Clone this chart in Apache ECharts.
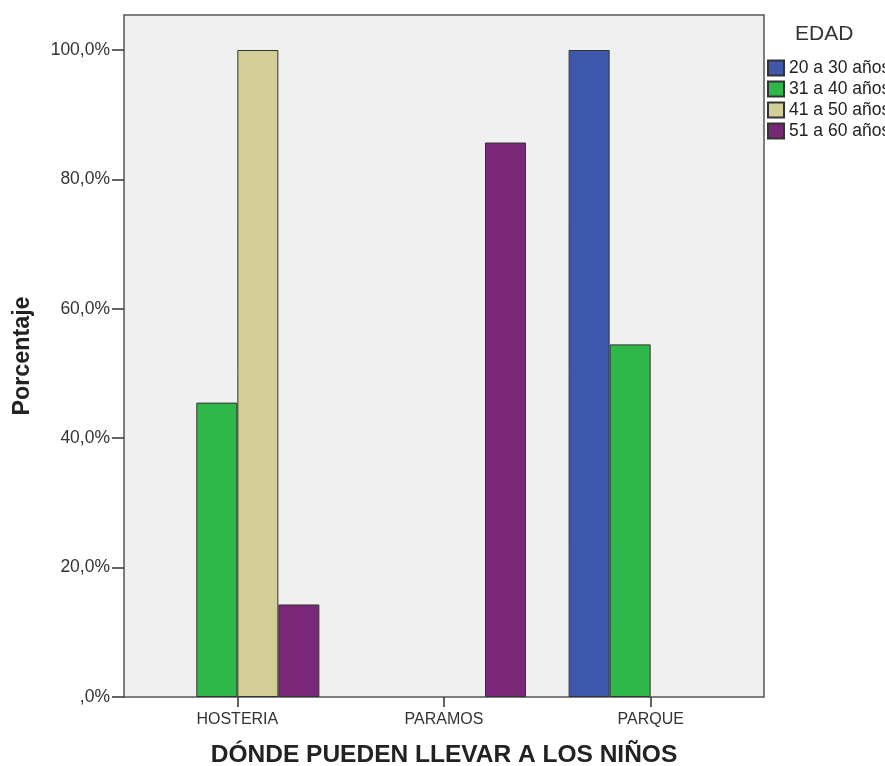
<!DOCTYPE html>
<html>
<head>
<meta charset="utf-8">
<script src="https://cdn.jsdelivr.net/npm/echarts@6/dist/echarts.min.js"></script>
<style>
  html, body { margin: 0; padding: 0; background: #fff; }
  #chart { width: 885px; height: 766px; }
</style>
</head>
<body>
<div id="chart"></div>
<script>
// Destinations (x categories)
const categories = ['HOSTERIA', 'PARAMOS', 'PARQUE'];
// Age groups (one bar series each)
const ageGroups = ['20 a 30 años', '31 a 40 años', '41 a 50 años', '51 a 60 años'];
// Percentage within each age group, per destination (null = no bar)
const age20to30 = [null, null, 100];
const age31to40 = [45.5, null, 54.5];
const age41to50 = [100, null, null];
const age51to60 = [14.3, 85.7, null];
const yTicks = [0, 20, 40, 60, 80, 100];

const seriesValues = [age20to30, age31to40, age41to50, age51to60];
const colors = ['#3d57ab', '#2fb84a', '#d3ce97', '#7b2777'];

const fmtPct = v => {
  const s = Number(v).toFixed(1).replace('.', ',');
  return (s === '0,0' ? ',0' : s) + '%';
};

const font = 'Liberation Sans, Arial, sans-serif';
const chart = echarts.init(document.getElementById('chart'));

chart.setOption({
  animation: false,
  textStyle: { fontFamily: font },
  title: {
    text: 'EDAD',
    left: 795, top: 24, padding: 0,
    textStyle: { fontFamily: font, fontSize: 21, fontWeight: 'normal', color: '#333' }
  },
  legend: {
    orient: 'vertical',
    left: 767, top: 59, padding: 0,
    itemWidth: 16, itemHeight: 15, itemGap: 3,
    icon: 'rect',
    textStyle: { fontFamily: font, fontSize: 17.5, lineHeight: 18, color: '#222' },
    data: ageGroups
  },
  grid: [
    // data area
    { left: 134, right: 131, top: 50, bottom: 69, outerBoundsMode: 'none' },
    // framed plot background
    { left: 124, right: 121, top: 15, bottom: 69, outerBoundsMode: 'none', show: true,
      backgroundColor: '#f0f0f0', borderColor: '#555', borderWidth: 1.5, z: 0 }
  ],
  xAxis: [
    {
      type: 'category', data: categories, gridIndex: 0,
      axisLine: { show: false },
      axisTick: { show: true, alignWithLabel: true, length: 10, lineStyle: { color: '#333', width: 1.5 } },
      axisLabel: { fontFamily: font, fontSize: 16, color: '#333', margin: 15 },
      name: 'DÓNDE PUEDEN LLEVAR A LOS NIÑOS',
      nameLocation: 'middle', nameGap: 46,
      nameTextStyle: { fontFamily: font, fontSize: 24.5, fontWeight: 'bold', color: '#222' }
    },
    { type: 'category', gridIndex: 1, show: false, data: [''] }
  ],
  yAxis: [
    {
      type: 'value', gridIndex: 0, min: 0, max: 100, interval: 20,
      offset: 10,
      axisLine: { show: false },
      splitLine: { show: false },
      axisTick: { show: true, length: 12, lineStyle: { color: '#333', width: 1.5 }, customValues: yTicks },
      axisLabel: { fontFamily: font, fontSize: 17.5, color: '#333', margin: 14, formatter: fmtPct, customValues: yTicks }
    },
    {
      // carries the axis title, centred on the framed area
      type: 'value', gridIndex: 1,
      axisLine: { show: false }, axisTick: { show: false },
      axisLabel: { show: false }, splitLine: { show: false },
      name: 'Porcentaje',
      nameLocation: 'middle', nameGap: 90, nameRotate: 90,
      nameTextStyle: { fontFamily: font, fontSize: 23.3, fontWeight: 'bold', color: '#222' }
    }
  ],
  series: ageGroups.map((name, i) => ({
    name,
    type: 'bar',
    xAxisIndex: 0, yAxisIndex: 0,
    data: seriesValues[i],
    barGap: '0%',
    barCategoryGap: '20.6%',
    z: 3,
    itemStyle: { color: colors[i], borderColor: '#333', borderWidth: 1 }
  }))
});
</script>
</body>
</html>
